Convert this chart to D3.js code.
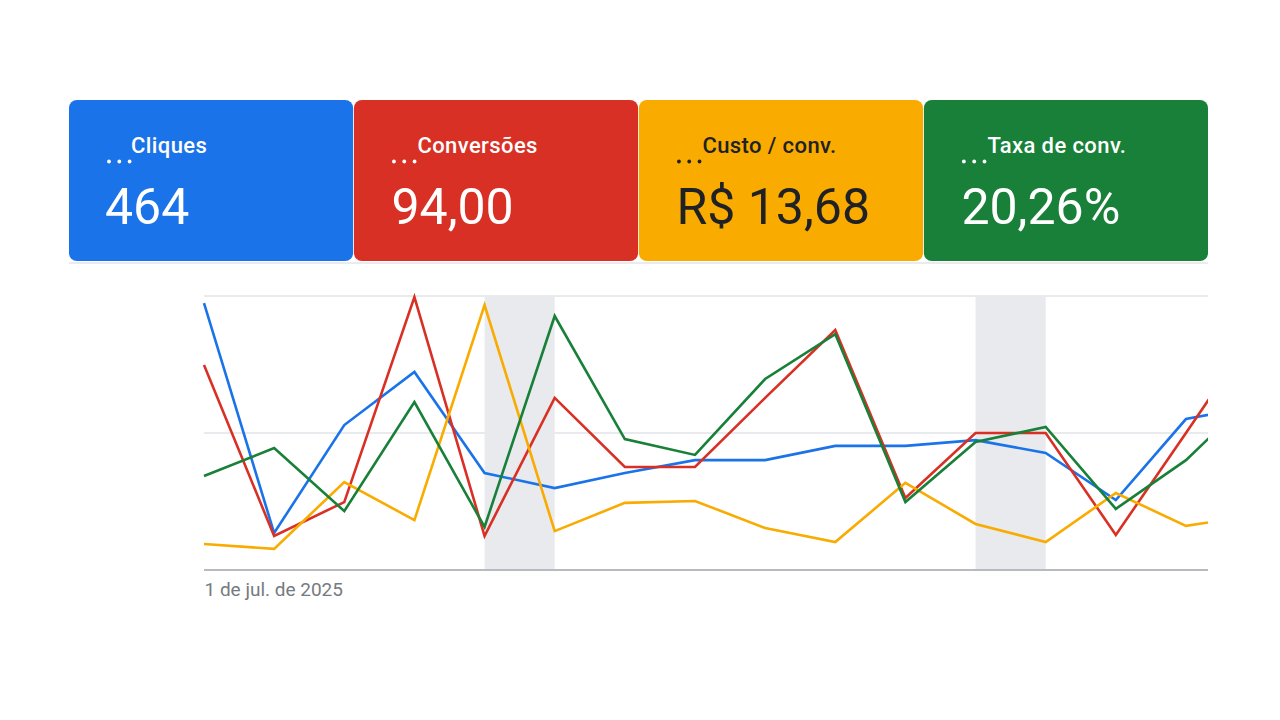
<!DOCTYPE html>
<html>
<head>
<meta charset="utf-8">
<script src="https://cdn.jsdelivr.net/npm/d3@7"></script>
<style>
  html, body { margin: 0; padding: 0; background: #ffffff; }
  svg { display: block; }
</style>
</head>
<body>
<svg id="chart" width="1280" height="720"></svg>
<script>
// ---- Data ----
const cardLabels = ["Cliques", "Conversões", "Custo / conv.", "Taxa de conv."];
const cardValues = ["464", "94,00", "R$ 13,68", "20,26%"];
const cardColors = ["#1a73e8", "#d93025", "#f9ab00", "#188038"];
const cardTextColors = ["#ffffff", "#ffffff", "#202124", "#ffffff"];

// days of July 2025 (1..16; the 16th is beyond the visible edge)
const days = [1, 2, 3, 4, 5, 6, 7, 8, 9, 10, 11, 12, 13, 14, 15, 16];
const weekendPairs = [[5, 6], [12, 13]];
const xTickLabels = ["1 de jul. de 2025"];

// normalized values (0–100 relative to each metric's chart range)
const cliques     = [97.4, 13.5, 52.9, 72.3, 35.4, 29.9, 35.4, 40.1, 40.1, 45.3, 45.3, 47.4, 42.7, 25.5, 55.1, 59.9];
const conversoes  = [74.8, 12.4, 24.8, 99.6, 12.4, 62.8, 37.6, 37.6, 62.8, 87.6, 26.3, 50.0, 50.0, 12.8, 50.0, 87.6];
const custoConv   = [9.5, 7.7, 32.1, 18.2, 96.7, 14.2, 24.5, 25.2, 15.3, 10.2, 31.8, 16.8, 10.2, 28.1, 16.1, 20.1];
const taxaConv    = [34.3, 44.5, 21.5, 61.3, 15.7, 92.7, 47.8, 42.0, 69.7, 86.1, 24.8, 46.7, 52.2, 22.3, 40.1, 64.6];
const seriesList = [cliques, conversoes, custoConv, taxaConv];
const gridValues = [50, 100];

// ---- Layout ----
const svg = d3.select("#chart");
const cardLeft = 69, cardRight = 1208, cardTop = 100, cardH = 161;
const plotLeft = 204, plotRight = 1208, plotTop = 296, plotBottom = 570;
const step = 70.14;

const cardX = d3.scaleBand()
  .domain(d3.range(cardLabels.length))
  .range([cardLeft, cardRight])
  .paddingInner(0.003);

svg.append("line")
  .attr("x1", cardLeft).attr("x2", cardRight)
  .attr("y1", cardTop + cardH + 2).attr("y2", cardTop + cardH + 2)
  .attr("stroke", "#e3e5e8").attr("stroke-width", 1.5);

// cards
const cards = svg.append("g").selectAll("g")
  .data(cardLabels)
  .join("g")
  .attr("transform", (d, i) => `translate(${cardX(i)},${cardTop})`);

cards.append("rect")
  .attr("width", cardX.bandwidth())
  .attr("height", cardH)
  .attr("rx", 8).attr("ry", 8)
  .attr("fill", (d, i) => cardColors[i]);

cards.append("text")
  .attr("x", (d, i) => i === 0 ? 62 : 63.5).attr("y", 53)
  .attr("font-family", "Roboto, 'Open Sans', sans-serif")
  .attr("font-weight", 500)
  .attr("font-size", 22)
  .attr("letter-spacing", 0.4)
  .attr("fill", (d, i) => cardTextColors[i])
  .text(d => d);

cards.each(function(d, i) {
  d3.select(this).selectAll("circle")
    .data([0, 1, 2])
    .join("circle")
    .attr("cx", k => 40 + k * 10.3)
    .attr("cy", 61.5)
    .attr("r", 1.9)
    .attr("fill", cardTextColors[i]);
});

cards.append("text")
  .attr("x", (d, i) => i === 0 ? 36 : 37.5)
  .attr("y", 123.5)
  .attr("font-family", "Roboto, 'Open Sans', sans-serif")
  .attr("font-size", 50)
  .attr("fill", (d, i) => cardTextColors[i])
  .text((d, i) => cardValues[i]);

// ---- Chart ----
const x = d3.scaleLinear()
  .domain([days[0], days[days.length - 1]])
  .range([plotLeft, plotLeft + step * (days.length - 1)]);
const y = d3.scaleLinear().domain([0, 100]).range([plotBottom, plotTop]);

svg.append("defs").append("clipPath").attr("id", "plotClip")
  .append("rect")
  .attr("x", plotLeft - 3).attr("y", plotTop - 5)
  .attr("width", plotRight - plotLeft + 3).attr("height", plotBottom - plotTop + 10);

// weekend bands
svg.append("g").selectAll("rect")
  .data(weekendPairs)
  .join("rect")
  .attr("x", d => x(d[0]))
  .attr("width", d => x(d[1]) - x(d[0]))
  .attr("y", plotTop)
  .attr("height", plotBottom - plotTop)
  .attr("fill", "#e8eaed");

// gridlines
svg.append("g").selectAll("line")
  .data(gridValues)
  .join("line")
  .attr("x1", plotLeft).attr("x2", plotRight)
  .attr("y1", d => y(d)).attr("y2", d => y(d))
  .attr("stroke", "#e8eaed").attr("stroke-width", 2);

// x axis
const xAxis = d3.axisBottom(x)
  .tickValues([days[0]])
  .tickSize(0)
  .tickPadding(13)
  .tickFormat((d, i) => xTickLabels[i]);
const axisG = svg.append("g")
  .attr("transform", `translate(0,${plotBottom})`)
  .call(xAxis);
axisG.select(".domain").remove();
axisG.append("line")
  .attr("x1", plotLeft).attr("x2", plotRight)
  .attr("stroke", "#b7bbc0").attr("stroke-width", 2);
axisG.selectAll(".tick text")
  .attr("text-anchor", "start")
  .attr("font-family", "Roboto, 'Open Sans', sans-serif")
  .attr("font-size", 19)
  .attr("fill", "#757a80");

// lines
const line = d3.line()
  .x((d, i) => x(days[i]))
  .y(d => y(d));

svg.append("g")
  .attr("clip-path", "url(#plotClip)")
  .selectAll("path")
  .data(seriesList)
  .join("path")
  .attr("d", line)
  .attr("fill", "none")
  .attr("stroke", (d, i) => cardColors[i])
  .attr("stroke-width", 2.6)
  .attr("stroke-linejoin", "miter");
</script>
</body>
</html>
